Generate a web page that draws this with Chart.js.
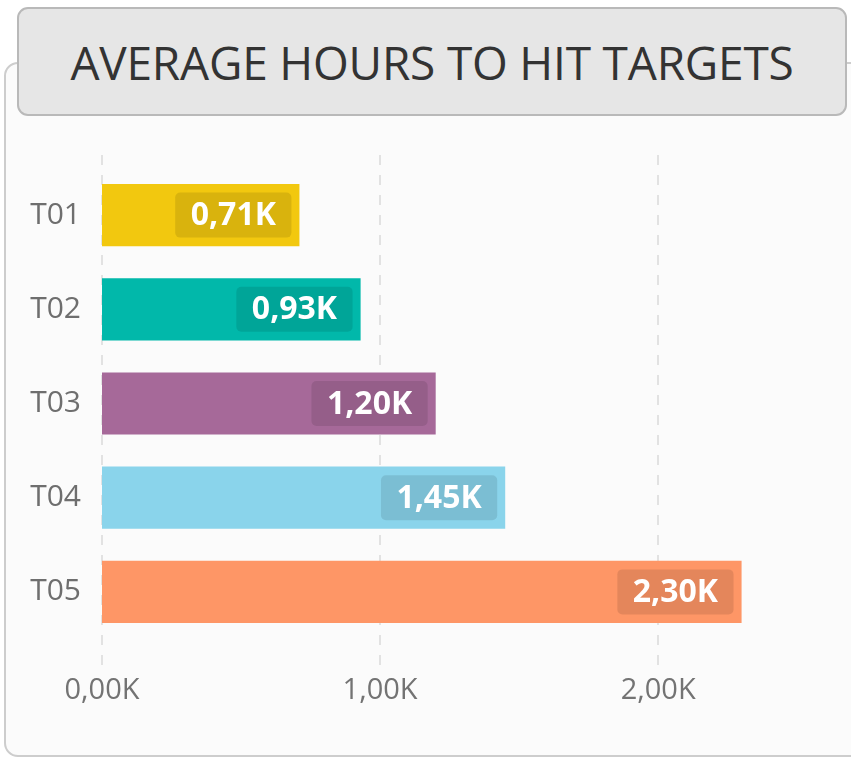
<!DOCTYPE html>
<html>
<head>
<meta charset="utf-8">
<script src="https://cdn.jsdelivr.net/npm/chart.js@4.4.1/dist/chart.umd.min.js"></script>
<style>
  html, body { margin: 0; padding: 0; background: #ffffff; }
  body { width: 851px; height: 758px; position: relative; overflow: hidden; font-family: "Open Sans", sans-serif; }
  .panel {
    position: absolute; left: 4px; top: 62px; width: 870px; height: 691px;
    background: #fbfbfb; border: 2px solid #cdcdcd; border-radius: 14px;
  }
  .wrap { position: absolute; left: 0; top: 0; width: 851px; height: 758px; }
  .title {
    position: absolute; left: 17px; top: 7px; width: 826px; height: 105px;
    background: #e6e6e6; border: 2px solid #b9b9b9; border-radius: 11px;
    display: flex; align-items: center; justify-content: center;
    font-size: 46px; color: #333333; letter-spacing: -0.2px;
  }
</style>
</head>
<body>
<div class="panel"></div>
<div class="wrap"><canvas id="hoursChart" width="851" height="758"></canvas></div>
<div class="title">AVERAGE HOURS TO HIT TARGETS</div>
<script>
const targets = ['T01', 'T02', 'T03', 'T04', 'T05'];
const avgHours = [710, 930, 1200, 1450, 2300];
const barColors = ['#F2C80F', '#01B8AA', '#A66999', '#8AD4EB', '#FE9666'];
const xTickValues = [0, 1000, 2000];
const axisMax = 2600;

function formatK(v) {
  return (v / 1000).toFixed(2).replace('.', ',') + 'K';
}

// dashed vertical grid lines, a bit taller than the plot area
const dashedGrid = {
  id: 'dashedGrid',
  beforeDatasetsDraw(chart) {
    const ctx = chart.ctx;
    const area = chart.chartArea;
    const xScale = chart.scales.x;
    ctx.save();
    ctx.strokeStyle = '#e2e2e2';
    ctx.lineWidth = 2;
    ctx.setLineDash([10, 10]);
    xScale.ticks.forEach(t => {
      const px = Math.round(xScale.getPixelForValue(t.value));
      ctx.beginPath();
      ctx.moveTo(px, area.top - 13);
      ctx.lineTo(px, area.bottom + 29);
      ctx.stroke();
    });
    ctx.restore();
  }
};

// value badges at the end of each bar
const badgeLabels = {
  id: 'badgeLabels',
  afterDatasetsDraw(chart) {
    const ctx = chart.ctx;
    const meta = chart.getDatasetMeta(0);
    ctx.save();
    ctx.font = 'bold 32px "Open Sans"';
    ctx.textAlign = 'center';
    ctx.textBaseline = 'middle';
    meta.data.forEach((bar, i) => {
      const text = formatK(avgHours[i]);
      const w = ctx.measureText(text).width + 31;
      const h = 45;
      const right = bar.x - 8;
      const left = right - w;
      const top = bar.y - h / 2;
      ctx.fillStyle = 'rgba(0,0,0,0.1)';
      ctx.beginPath();
      ctx.roundRect(left, top, w, h, 5);
      ctx.fill();
      ctx.fillStyle = '#ffffff';
      ctx.fillText(text, left + w / 2, bar.y + 1);
    });
    ctx.restore();
  }
};

const chartCtx = document.getElementById('hoursChart').getContext('2d');
const hoursChart = new Chart(chartCtx, {
  type: 'bar',
  data: {
    labels: targets,
    datasets: [{
      label: 'Average hours',
      data: avgHours,
      backgroundColor: barColors,
      borderWidth: 0,
      barPercentage: 0.66,
      categoryPercentage: 1.0
    }]
  },
  options: {
    indexAxis: 'y',
    responsive: false,
    animation: false,
    layout: { padding: { top: 168, right: 26, bottom: 49, left: 0 } },
    scales: {
      x: {
        min: 0,
        max: axisMax,
        border: { display: false },
        grid: { display: false, drawTicks: false },
        afterBuildTicks: axis => {
          axis.ticks = xTickValues.map(v => ({ value: v }));
        },
        afterFit: axis => { axis.height = 70; },
        ticks: {
          autoSkip: false,
          maxRotation: 0,
          minRotation: 0,
          padding: 34,
          color: '#737373',
          font: { family: 'Open Sans', size: 29 },
          callback: v => formatK(v)
        }
      },
      y: {
        border: { display: false },
        grid: { display: false, drawTicks: false },
        afterFit: axis => { axis.width = 102; },
        ticks: {
          padding: 21,
          color: '#6e6e6e',
          font: { family: 'Open Sans', size: 30 }
        }
      }
    },
    plugins: {
      legend: { display: false },
      tooltip: { enabled: false }
    }
  },
  plugins: [dashedGrid, badgeLabels]
});
</script>
</body>
</html>
